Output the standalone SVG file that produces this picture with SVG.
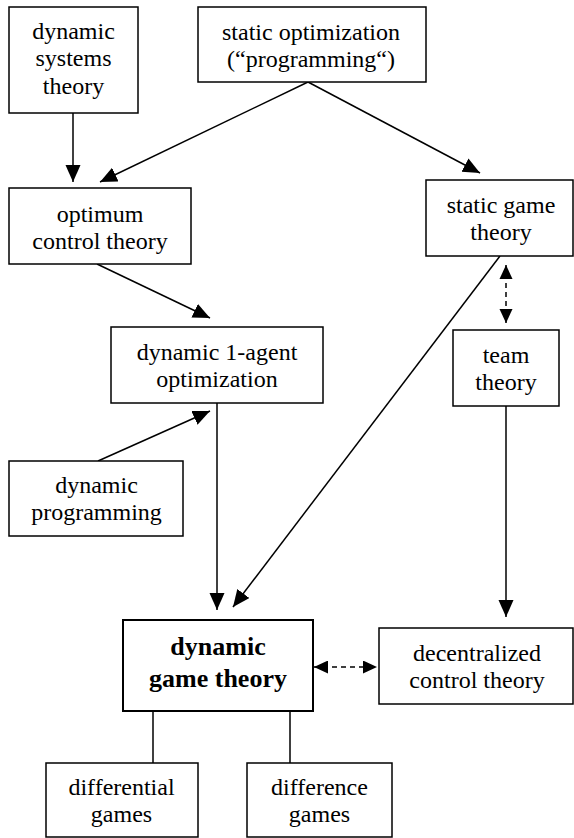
<svg xmlns="http://www.w3.org/2000/svg" width="574" height="838" viewBox="0 0 574 838" font-family="Liberation Serif, Times New Roman, DejaVu Serif, serif" font-size="24" text-anchor="middle">
<style>
.box{fill:#fff;stroke:#000;stroke-width:1.5}
.bold{stroke-width:2}
.c{stroke:#000;stroke-width:1.5;fill:none}
.d{stroke-dasharray:5 4}
</style>
<defs>
<marker id="ah" markerUnits="userSpaceOnUse" markerWidth="18" markerHeight="16" refX="17" refY="7.5" orient="auto">
<path d="M0,0 L17,7.5 L0,15 z" fill="#000"/>
</marker>
<marker id="as" markerUnits="userSpaceOnUse" markerWidth="15" markerHeight="14" refX="14" refY="6.5" orient="auto">
<path d="M0,0 L14,6.5 L0,13 z" fill="#000"/>
</marker>
<marker id="as0" markerUnits="userSpaceOnUse" markerWidth="15" markerHeight="14" refX="0" refY="6.5" orient="auto">
<path d="M14,0 L0,6.5 L14,13 z" fill="#000"/>
</marker>
</defs>
<g id="connectors">
<line class="c" x1="73" y1="113" x2="73" y2="182" marker-end="url(#ah)"/>
<line class="c" x1="308" y1="82" x2="100" y2="182" marker-end="url(#ah)"/>
<line class="c" x1="308" y1="82" x2="480" y2="173" marker-end="url(#ah)"/>
<line class="c" x1="97" y1="264" x2="210" y2="318" marker-end="url(#ah)"/>
<line class="c" x1="98" y1="461" x2="210" y2="411" marker-end="url(#ah)"/>
<line class="c" x1="217" y1="403" x2="217" y2="610" marker-end="url(#ah)"/>
<line class="c" x1="500" y1="256" x2="233" y2="607" marker-end="url(#ah)"/>
<line class="c d" x1="506" y1="265" x2="506" y2="323" marker-start="url(#as0)" marker-end="url(#as)"/>
<line class="c" x1="506" y1="406" x2="506" y2="617" marker-end="url(#ah)"/>
<line class="c d" x1="314" y1="667" x2="377" y2="667" marker-start="url(#as0)" marker-end="url(#as)"/>
<line class="c" x1="153" y1="711" x2="153" y2="763"/>
<line class="c" x1="290" y1="711" x2="290" y2="763"/>
</g>
<g id="dynamic-systems">
<rect class="box" x="9" y="7" width="129" height="106"/>
<text x="73.5" y="38.5">dynamic</text>
<text x="73.5" y="66">systems</text>
<text x="73.5" y="93.5">theory</text>
</g>
<g id="static-optimization">
<rect class="box" x="198" y="7" width="228" height="75"/>
<text x="311" y="40">static optimization</text>
<text x="311" y="67">(“programming“)</text>
</g>
<g id="optimum-control">
<rect class="box" x="9" y="188" width="182" height="76"/>
<text x="100" y="222">optimum</text>
<text x="100" y="249">control theory</text>
</g>
<g id="static-game">
<rect class="box" x="426" y="180" width="147" height="76"/>
<text x="501" y="213">static game</text>
<text x="501" y="240">theory</text>
</g>
<g id="dynamic-1-agent">
<rect class="box" x="111" y="327" width="212" height="76"/>
<text x="217" y="360">dynamic 1-agent</text>
<text x="217" y="387">optimization</text>
</g>
<g id="team">
<rect class="box" x="453" y="330" width="106" height="76"/>
<text x="506" y="363">team</text>
<text x="506" y="389.5">theory</text>
</g>
<g id="dynamic-programming">
<rect class="box" x="9" y="461" width="174" height="75"/>
<text x="96.5" y="492.5">dynamic</text>
<text x="96.5" y="520">programming</text>
</g>
<g id="dynamic-game" font-size="26" font-weight="bold">
<rect class="box bold" x="123" y="620" width="190" height="91"/>
<text x="218" y="655">dynamic</text>
<text x="218" y="687">game theory</text>
</g>
<g id="decentralized">
<rect class="box" x="379" y="628" width="194" height="76"/>
<text x="477" y="661">decentralized</text>
<text x="477" y="688">control theory</text>
</g>
<g id="differential">
<rect class="box" x="46" y="763" width="152" height="74"/>
<text x="121.5" y="795">differential</text>
<text x="121.5" y="821.5">games</text>
</g>
<g id="difference">
<rect class="box" x="247" y="763" width="145" height="74"/>
<text x="319.5" y="795">difference</text>
<text x="319.5" y="821.5">games</text>
</g>
</svg>
